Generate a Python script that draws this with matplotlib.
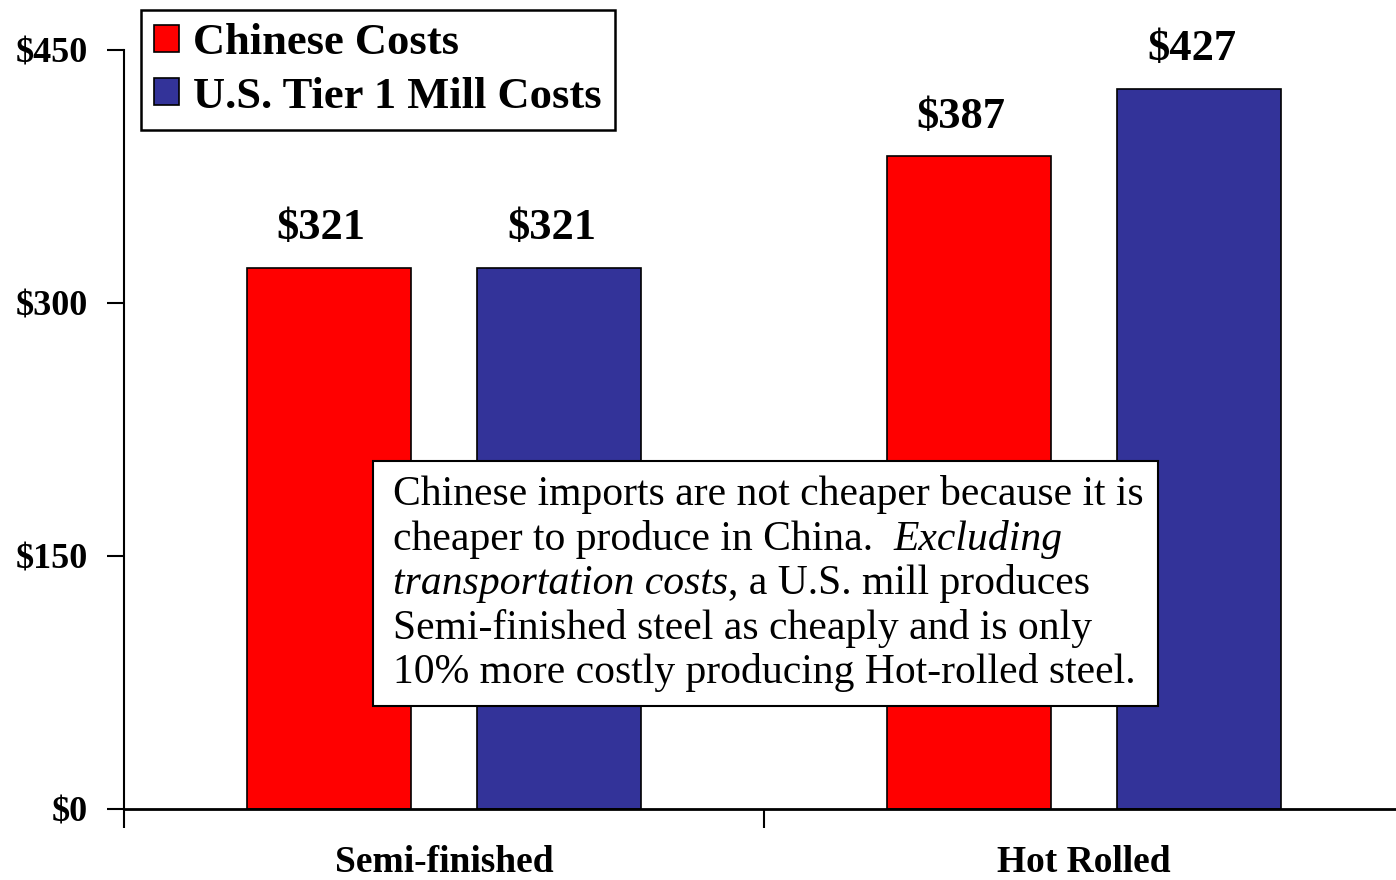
import matplotlib
matplotlib.use('Agg')
import matplotlib.pyplot as plt
from matplotlib.patches import Rectangle
import numpy as np

categories = ['Semi-finished', 'Hot Rolled']
chinese = [321, 387]
us_mill = [321, 427]
series_names = ['Chinese Costs', 'U.S. Tier 1 Mill Costs']
yticks = [0, 150, 300, 450]

plt.rcParams['font.family'] = ['Liberation Serif', 'DejaVu Serif']

fig = plt.figure(figsize=(13.96, 8.8), dpi=100)
W, H = 1396, 880
ax = fig.add_axes([124 / W, 71 / H, 1280 / W, 759 / H])

x = np.arange(len(categories))
bw = 0.256
off = 0.18
b1 = ax.bar(x - off, chinese, bw, color='#ff0000', edgecolor='black', linewidth=1.2,
            label=series_names[0])
b2 = ax.bar(x + off, us_mill, bw, color='#333399', edgecolor='black', linewidth=1.2,
            label=series_names[1])

for bars, vals in ((b1, chinese), (b2, us_mill)):
    for r, v in zip(bars, vals):
        ax.text(r.get_x() + r.get_width() / 2 - 0.012, v + 17, f'${v}', ha='center',
                va='baseline', fontsize=32, fontweight='bold')

ax.set_xlim(-0.5, 1.5)
ax.set_ylim(0, 450)
ax.set_yticks(yticks)
ax.set_yticklabels([f'${v}' for v in yticks], fontsize=26, fontweight='bold')
ax.set_xticks(x)
ax.set_xticklabels(categories, fontsize=27, fontweight='bold')
ax.tick_params(axis='x', length=0, pad=26)
ax.set_xticks([-0.5, 0.5, 1.5], minor=True)
ax.tick_params(axis='x', which='minor', length=14, width=1.5, direction='out')
ax.tick_params(axis='y', length=12, width=1.5, direction='out', pad=14)
for s in ('top', 'right'):
    ax.spines[s].set_visible(False)
ax.spines['left'].set_linewidth(1.5)
ax.spines['bottom'].set_linewidth(2)

leg = fig.legend(handles=[b1, b2], loc='upper left', bbox_to_anchor=(141 / W, 1 - 10 / H),
                 prop={'weight': 'bold', 'size': 32}, frameon=True, fancybox=False,
                 framealpha=1, handlelength=0.56, handleheight=0.56, handletextpad=0.3,
                 borderpad=0.3, labelspacing=0.3, borderaxespad=0)
leg.get_frame().set_edgecolor('black')
leg.get_frame().set_linewidth(1.8)

# note box with mixed roman / italic lines
fig.patches.append(Rectangle((373 / W, 1 - 706 / H), 785 / W, 245 / H, transform=fig.transFigure,
                             facecolor='white', edgecolor='black', linewidth=1.5, zorder=5))
fs = 30
base = [505, 550, 594, 639, 683]
lines = [
    [('Chinese imports are not cheaper because it is', 'normal')],
    [('cheaper to produce in China.', 'normal'), ('Excluding', 'italic')],
    [('transportation costs', 'italic'), (', a U.S. mill produces', 'normal')],
    [('Semi-finished steel as cheaply and is only', 'normal')],
    [('10% more costly producing Hot-rolled steel.', 'normal')],
]
renderer = fig.canvas.get_renderer()
for b, parts in zip(base, lines):
    xpix = 393
    for i, (s, st) in enumerate(parts):
        if i > 0 and s[0].isalpha():
            xpix += 20
        t = fig.text(xpix / W, 1 - b / H, s, fontsize=fs, style=st, va='baseline', zorder=6)
        xpix = t.get_window_extent(renderer).x1

fig.savefig('out.png', dpi=100)
